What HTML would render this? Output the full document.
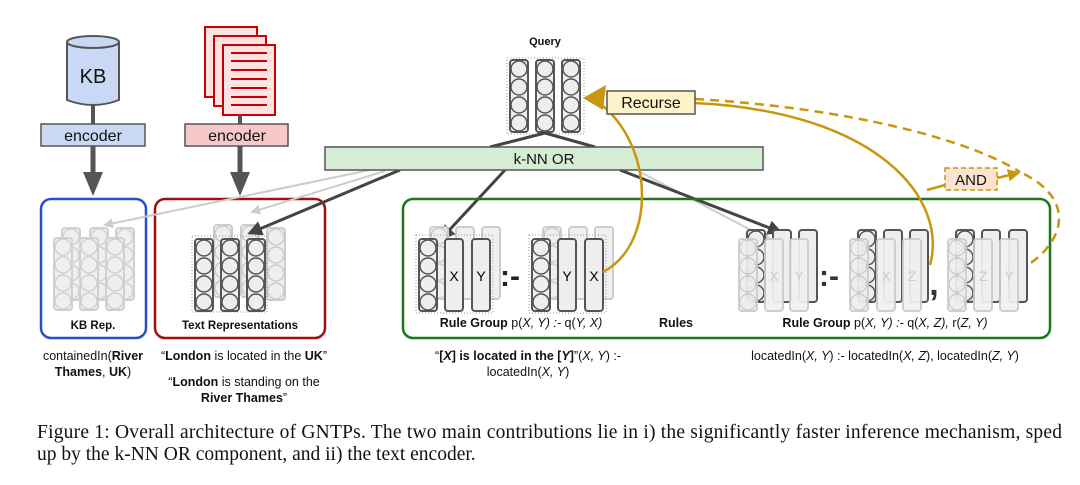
<!DOCTYPE html>
<html><head><meta charset="utf-8"><style>
body{margin:0;background:#fff;width:1080px;height:485px;overflow:hidden}
svg{display:block}
text{font-family:"Liberation Sans",sans-serif}
.cap{font-family:"Liberation Serif",serif;font-size:19.5px;fill:#111}
</style></head><body>
<svg width="1080" height="485" viewBox="0 0 1080 485" xmlns="http://www.w3.org/2000/svg">
<defs>
<g id="col"><rect x="0" y="0" width="18" height="72" rx="3" fill="#eee" stroke="#555" stroke-width="2"/>
<circle cx="9" cy="9" r="8" fill="#eee" stroke="#555" stroke-width="1.5"/><circle cx="9" cy="27" r="8" fill="#eee" stroke="#555" stroke-width="1.5"/><circle cx="9" cy="45" r="8" fill="#eee" stroke="#555" stroke-width="1.5"/><circle cx="9" cy="63" r="8" fill="#eee" stroke="#555" stroke-width="1.5"/></g>
<g id="lcol"><rect x="0" y="0" width="18" height="72" rx="3" fill="#eee" stroke="#ccc" stroke-width="2"/>
<circle cx="9" cy="9" r="8" fill="#eee" stroke="#ccc" stroke-width="1.5"/><circle cx="9" cy="27" r="8" fill="#eee" stroke="#ccc" stroke-width="1.5"/><circle cx="9" cy="45" r="8" fill="#eee" stroke="#ccc" stroke-width="1.5"/><circle cx="9" cy="63" r="8" fill="#eee" stroke="#ccc" stroke-width="1.5"/></g>
<rect id="bar" x="0" y="0" width="18" height="72" rx="3" fill="#eee" stroke="#555" stroke-width="2"/>
<rect id="lbar" x="0" y="0" width="18" height="72" rx="3" fill="#f0f0f0" stroke="#ccc" stroke-width="2"/>
<marker id="ah" viewBox="0 0 10 10" refX="8" refY="5" markerWidth="5" markerHeight="5" orient="auto"><path d="M0,0L10,5L0,10z" fill="#444"/></marker>
<marker id="ahl" viewBox="0 0 10 10" refX="8" refY="5" markerWidth="5" markerHeight="5" orient="auto"><path d="M0,0L10,5L0,10z" fill="#ccc"/></marker>
<marker id="ahg" viewBox="0 0 10 10" refX="8" refY="5" markerWidth="5" markerHeight="5" orient="auto"><path d="M0,0L10,5L0,10z" fill="#c9960c"/></marker>
</defs>

<!-- KB -->
<path d="M67,42 L67,100 Q93,110 119,100 L119,42" fill="#c9d9f5" stroke="#555" stroke-width="2"/>
<ellipse cx="93" cy="42" rx="26" ry="6" fill="#c9d9f5" stroke="#555" stroke-width="2"/>
<text x="93" y="83" font-size="20" text-anchor="middle" fill="#111">KB</text>
<line x1="93" y1="105" x2="93" y2="124" stroke="#555" stroke-width="4"/>
<rect x="41" y="124" width="104" height="22" fill="#c9d9f5" stroke="#555" stroke-width="1.5"/>
<text x="93" y="141" font-size="16" text-anchor="middle" fill="#111">encoder</text>
<line x1="93" y1="146" x2="93" y2="178" stroke="#555" stroke-width="5"/>
<path d="M83,172 L103,172 L93,196z" fill="#555"/>

<!-- Docs -->
<rect x="205" y="27" width="52" height="70" fill="#fde4e4" stroke="#c00" stroke-width="2"/>
<rect x="214" y="36" width="52" height="70" fill="#fde4e4" stroke="#c00" stroke-width="2"/>
<rect x="223" y="45" width="52" height="70" fill="#fde4e4" stroke="#c00" stroke-width="2"/>
<g stroke="#c00" stroke-width="2"><line x1="231" y1="53" x2="267" y2="53"/><line x1="231" y1="61" x2="267" y2="61"/><line x1="231" y1="70" x2="267" y2="70"/><line x1="231" y1="79" x2="267" y2="79"/><line x1="231" y1="88" x2="267" y2="88"/><line x1="231" y1="97" x2="267" y2="97"/><line x1="231" y1="105" x2="267" y2="105"/></g>
<line x1="240" y1="115" x2="240" y2="124" stroke="#555" stroke-width="4"/>
<rect x="185" y="124" width="103" height="22" fill="#f8c8c8" stroke="#555" stroke-width="1.5"/>
<text x="237" y="141" font-size="16" text-anchor="middle" fill="#111">encoder</text>
<line x1="240" y1="146" x2="240" y2="178" stroke="#555" stroke-width="5"/>
<path d="M230,172 L250,172 L240,196z" fill="#555"/>

<!-- KB Rep box -->
<rect x="41" y="199" width="105" height="139" rx="10" fill="none" stroke="#2b4fc7" stroke-width="2.5"/>
<g opacity="0.9"><use href="#lcol" x="62" y="228"/><use href="#lcol" x="90" y="228"/><use href="#lcol" x="116" y="228"/>
<use href="#lcol" x="54" y="238"/><use href="#lcol" x="80" y="238"/><use href="#lcol" x="106" y="238"/></g>
<text x="93" y="329" font-size="11.5" font-weight="bold" text-anchor="middle" fill="#111">KB Rep.</text>

<!-- Text rep box -->
<rect x="155" y="199" width="170" height="139" rx="10" fill="none" stroke="#a01010" stroke-width="2.5"/>
<use href="#lcol" x="214" y="225"/><use href="#lcol" x="241" y="225"/><use href="#lcol" x="267" y="228"/>
<rect x="192" y="236" width="75" height="76" fill="none" stroke="#999" stroke-dasharray="1,2"/>
<use href="#col" x="195" y="239"/><use href="#col" x="221" y="239"/><use href="#col" x="247" y="239"/>
<text x="240" y="329" font-size="11.5" font-weight="bold" text-anchor="middle" fill="#111">Text Representations</text>

<!-- light arrows -->
<g stroke="#ccc" stroke-width="2" fill="none">
<line x1="370" y1="170" x2="105" y2="225" marker-end="url(#ahl)"/>
<line x1="385" y1="171" x2="252" y2="212" marker-end="url(#ahl)"/>
<line x1="640" y1="172" x2="770" y2="240" marker-end="url(#ahl)"/>
</g>

<!-- Query -->
<text x="545" y="45" font-size="11" font-weight="bold" text-anchor="middle" fill="#111">Query</text>
<rect x="507" y="58" width="77" height="76" fill="none" stroke="#999" stroke-dasharray="1,2"/>
<use href="#col" x="510" y="60"/><use href="#col" x="536" y="60"/><use href="#col" x="562" y="60"/>

<!-- dark arrows -->
<g stroke="#444" stroke-width="3" fill="none">
<line x1="545" y1="133" x2="490" y2="147"/>
<line x1="545" y1="133" x2="595" y2="147"/>
<line x1="400" y1="170" x2="250" y2="233" marker-end="url(#ah)"/>
<line x1="505" y1="170" x2="442" y2="238" marker-end="url(#ah)"/>
<line x1="620" y1="170" x2="780" y2="232" marker-end="url(#ah)"/>
</g>

<!-- kNN -->
<rect x="325" y="147" width="438" height="23" fill="#d5ecd5" stroke="#555" stroke-width="1.5"/>
<text x="544" y="164" font-size="15" text-anchor="middle" fill="#111">k-NN OR</text>

<!-- Rules box -->
<rect x="403" y="199" width="647" height="139" rx="10" fill="none" stroke="#1a7a1a" stroke-width="2.5"/>

<!-- rule group 1 -->
<use href="#lcol" x="430" y="227"/><use href="#lbar" x="456" y="227"/><use href="#lbar" x="482" y="227"/>
<use href="#lcol" x="543" y="227"/><use href="#lbar" x="569" y="227"/><use href="#lbar" x="595" y="227"/>
<rect x="416" y="235" width="77" height="78" fill="none" stroke="#999" stroke-dasharray="1,2"/>
<rect x="529" y="235" width="77" height="78" fill="none" stroke="#999" stroke-dasharray="1,2"/>
<use href="#col" x="419" y="239"/><use href="#bar" x="445" y="239"/><use href="#bar" x="472" y="239"/>
<text x="454" y="281" font-size="14" text-anchor="middle">X</text><text x="481" y="281" font-size="14" text-anchor="middle">Y</text>
<text x="510" y="286" font-size="30" font-weight="bold" text-anchor="middle" fill="#222">:-</text>
<use href="#col" x="532" y="239"/><use href="#bar" x="558" y="239"/><use href="#bar" x="585" y="239"/>
<text x="567" y="281" font-size="14" text-anchor="middle">Y</text><text x="594" y="281" font-size="14" text-anchor="middle">X</text>

<!-- rule group 2 -->
<use href="#col" x="747" y="230"/><use href="#bar" x="773" y="230"/><use href="#bar" x="799" y="230"/>
<use href="#col" x="858" y="230"/><use href="#bar" x="884" y="230"/><use href="#bar" x="910" y="230"/>
<use href="#col" x="956" y="230"/><use href="#bar" x="982" y="230"/><use href="#bar" x="1009" y="230"/>
<g opacity="0.93">
<use href="#lcol" x="739" y="239"/><use href="#lbar" x="765" y="239"/><use href="#lbar" x="790" y="239"/>
<use href="#lcol" x="850" y="239"/><use href="#lbar" x="877" y="239"/><use href="#lbar" x="903" y="239"/>
<use href="#lcol" x="948" y="239"/><use href="#lbar" x="974" y="239"/><use href="#lbar" x="1000" y="239"/>
</g>
<g fill="#ccc" font-size="14" text-anchor="middle"><text x="774" y="281">X</text><text x="799" y="281">Y</text><text x="886" y="281">X</text><text x="912" y="281">Z</text><text x="983" y="281">Z</text><text x="1009" y="281">Y</text></g>
<text x="829" y="286" font-size="30" font-weight="bold" text-anchor="middle" fill="#333">:-</text>
<text x="934" y="295" font-size="34" font-weight="bold" text-anchor="middle" fill="#333">,</text>

<text x="521" y="327" font-size="12.5" text-anchor="middle" fill="#111"><tspan font-weight="bold">Rule Group</tspan> p(<tspan font-style="italic">X, Y) :-</tspan> q(<tspan font-style="italic">Y, X)</tspan></text>
<text x="676" y="327" font-size="12.5" font-weight="bold" text-anchor="middle" fill="#111">Rules</text>
<text x="885" y="327" font-size="12.5" text-anchor="middle" fill="#111"><tspan font-weight="bold">Rule Group</tspan> p(<tspan font-style="italic">X, Y) :-</tspan> q(<tspan font-style="italic">X, Z),</tspan> r(<tspan font-style="italic">Z, Y)</tspan></text>

<!-- gold curves -->
<g fill="none" stroke="#c9960c" stroke-width="2.5">
<path d="M603,272 C655,245 655,150 603,106"/>
<path d="M930,265 C948,200 880,112 695,103"/>
<path d="M695,99 C850,108 970,140 1020,172" stroke-dasharray="9,6"/>
<path d="M1024,174 C1075,200 1065,240 1028,265" stroke-dasharray="9,6"/>
<line x1="997" y1="178" x2="1018" y2="173" marker-end="url(#ahg)"/>
<line x1="927" y1="190" x2="945" y2="185"/>
</g>
<path d="M583,98 L606,85 L603,110z" fill="#c9960c"/>
<rect x="607" y="91" width="88" height="23" fill="#fdf2c8" stroke="#555" stroke-width="1.5"/>
<text x="651" y="108" font-size="16" text-anchor="middle" fill="#111">Recurse</text>
<rect x="945" y="168" width="52" height="22" fill="#fbe3cf" stroke="#c9960c" stroke-width="1.5" stroke-dasharray="5,3"/>
<text x="971" y="185" font-size="15" text-anchor="middle" fill="#111">AND</text>

<!-- below text -->
<g font-size="12.5" fill="#111" text-anchor="middle">
<text x="93" y="360">containedIn(<tspan font-weight="bold">River</tspan></text>
<text x="93" y="376"><tspan font-weight="bold">Thames</tspan>, <tspan font-weight="bold">UK</tspan>)</text>
<text x="244" y="360">“<tspan font-weight="bold">London</tspan> is located in the <tspan font-weight="bold">UK</tspan>”</text>
<text x="244" y="386">“<tspan font-weight="bold">London</tspan> is standing on the</text>
<text x="244" y="402"><tspan font-weight="bold">River Thames</tspan>”</text>
<text x="528" y="360">“<tspan font-weight="bold">[<tspan font-style="italic">X</tspan>] is located in the [<tspan font-style="italic">Y</tspan>]</tspan>”(<tspan font-style="italic">X, Y</tspan>) :-</text>
<text x="528" y="376">locatedIn(<tspan font-style="italic">X, Y</tspan>)</text>
<text x="885" y="360">locatedIn(<tspan font-style="italic">X, Y</tspan>) :- locatedIn(<tspan font-style="italic">X, Z</tspan>), locatedIn(<tspan font-style="italic">Z, Y</tspan>)</text>
</g>

<text class="cap" x="37" y="438" textLength="1025" lengthAdjust="spacing">Figure 1: Overall architecture of GNTPs. The two main contributions lie in i) the significantly faster inference mechanism, sped</text>
<text class="cap" x="37" y="460">up by the k-NN OR component, and ii) the text encoder.</text>
</svg>
</body></html>
